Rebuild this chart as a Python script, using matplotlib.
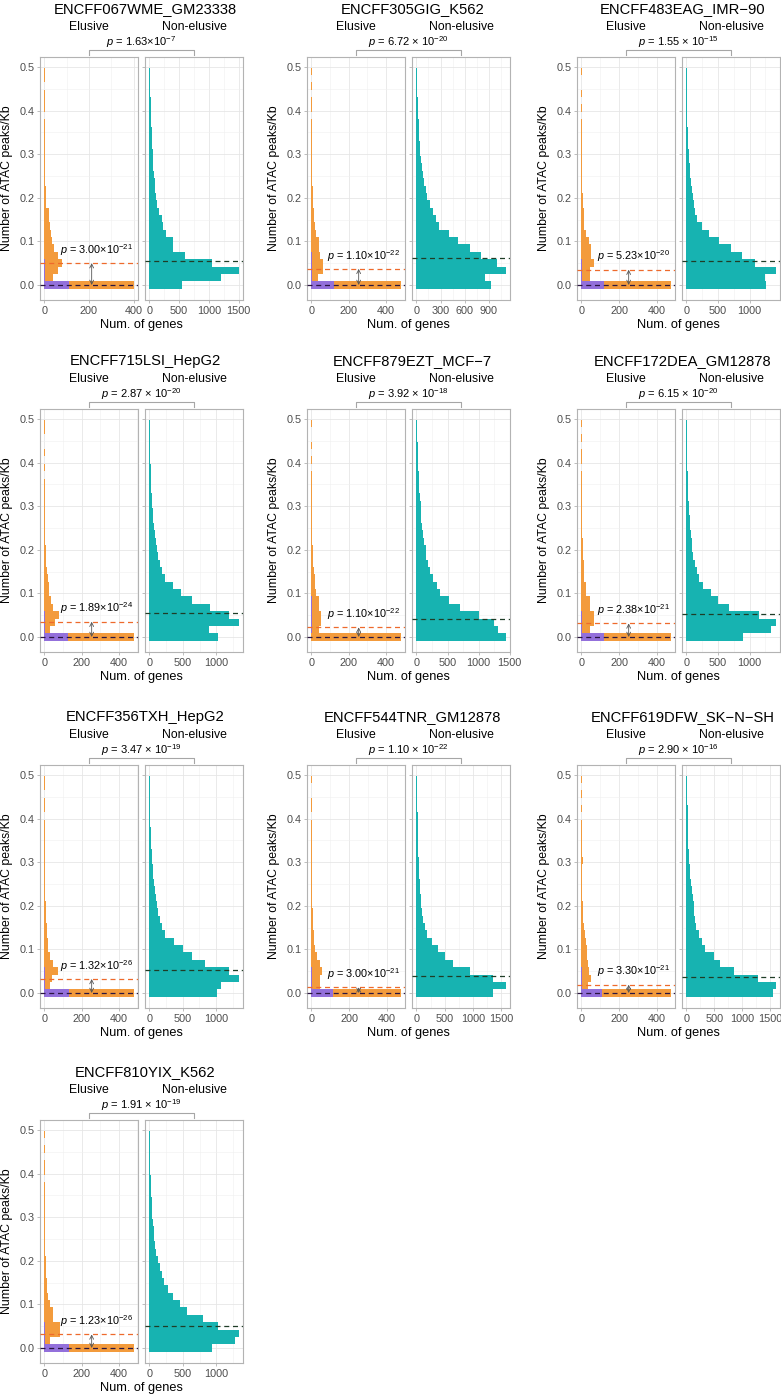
import numpy as np
import matplotlib
matplotlib.use("Agg")
import matplotlib.pyplot as plt
from matplotlib.lines import Line2D
from matplotlib.ticker import MultipleLocator

plt.rcParams["font.family"] = ["Liberation Sans", "DejaVu Sans"]
plt.rcParams["mathtext.fontset"] = "custom"
plt.rcParams["mathtext.rm"] = "Liberation Sans"
plt.rcParams["mathtext.it"] = "Liberation Sans:italic"

# ---- data ----
titles = ["ENCFF067WME_GM23338", "ENCFF305GIG_K562", "ENCFF483EAG_IMR\u221290",
          "ENCFF715LSI_HepG2", "ENCFF879EZT_MCF\u22127", "ENCFF172DEA_GM12878",
          "ENCFF356TXH_HepG2", "ENCFF544TNR_GM12878", "ENCFF619DFW_SK\u2212N\u2212SH",
          "ENCFF810YIX_K562"]

# p-value between elusive / non-elusive (mantissa, exponent, spaced x sign)
p_between = [("1.63", -7, False), ("6.72", -20, True), ("1.55", -15, True),
             ("2.87", -20, True), ("3.92", -18, True), ("6.15", -20, True),
             ("3.47", -19, True), ("1.10", -22, True), ("2.90", -16, True),
             ("1.91", -19, True)]
# p-value inside elusive panel
p_within = [("3.00", -21), ("1.10", -22), ("5.23", -20), ("1.89", -24), ("1.10", -22),
            ("2.38", -21), ("1.32", -26), ("3.00", -21), ("3.30", -21), ("1.23", -26)]

# bin counts, bins of ~0.0169 peaks/Kb starting at 0
elusive_counts = [
    [400, 40, 62, 78, 60, 45, 35, 30, 25, 22, 20, 8, 5, 6, 4, 3, 2, 2, 3, 2, 1, 2, 1, 0, 1, 2, 1, 0, 1, 1],
    [478, 35, 62, 62, 45, 40, 38, 27, 18, 15, 12, 10, 8, 6, 4, 3, 2, 3, 2, 2, 1, 1, 2, 0, 1, 1, 0, 1, 0, 1],
    [472, 47, 47, 68, 51, 50, 39, 25, 16, 16, 12, 9, 7, 5, 4, 3, 3, 2, 2, 1, 1, 1, 1, 0, 1, 0, 1, 0, 0, 1],
    [480, 30, 57, 80, 48, 34, 27, 22, 18, 14, 10, 8, 6, 5, 4, 3, 2, 3, 2, 1, 1, 1, 0, 1, 0, 1, 0, 0, 1, 1],
    [478, 41, 53, 53, 41, 41, 27, 18, 18, 12, 10, 8, 6, 5, 4, 3, 2, 2, 3, 1, 1, 1, 1, 0, 1, 0, 1, 0, 0, 1],
    [472, 44, 65, 65, 44, 44, 26, 26, 16, 16, 16, 9, 9, 6, 5, 4, 3, 2, 3, 2, 1, 2, 1, 0, 1, 1, 0, 1, 0, 1],
    [480, 30, 40, 75, 48, 30, 21, 21, 15, 12, 10, 8, 6, 5, 4, 4, 3, 2, 3, 2, 1, 1, 2, 1, 0, 1, 1, 0, 1, 1],
    [472, 44, 44, 58, 44, 30, 21, 15, 12, 10, 8, 6, 5, 4, 3, 3, 2, 2, 3, 1, 1, 1, 1, 1, 0, 1, 2, 0, 0, 1],
    [472, 36, 48, 40, 36, 32, 28, 22, 18, 14, 10, 8, 6, 5, 4, 3, 3, 2, 6, 3, 2, 1, 1, 1, 0, 1, 0, 1, 0, 1],
    [480, 30, 84, 84, 48, 48, 30, 21, 15, 12, 10, 8, 6, 5, 4, 3, 3, 2, 2, 1, 2, 1, 1, 0, 1, 1, 0, 1, 0, 1],
]
purple_counts = [
    [110, 3, 3, 3],
    [119, 3, 3, 3, 3],
    [118, 3, 3, 3],
    [129, 3, 3, 3],
    [0, 3, 3, 3, 3, 3],
    [118, 3, 3, 3],
    [132, 3, 3, 3],
    [115, 3, 3, 3],
    [110, 3, 3, 3],
    [132, 3, 3, 3],
]
nonelusive_counts = [
    [540, 1200, 1500, 1050, 600, 400, 390, 280, 220, 210, 160, 130, 113, 100, 88, 76, 66, 60, 52, 46, 40, 35, 30, 27, 24, 20, 17, 14, 12, 9],
    [930, 860, 1110, 1000, 810, 670, 520, 410, 280, 240, 200, 170, 137, 115, 100, 85, 70, 58, 45, 40, 34, 30, 26, 22, 18, 15, 12, 10, 8, 6],
    [1266, 1240, 1410, 1090, 880, 710, 520, 350, 240, 170, 135, 118, 106, 90, 75, 62, 50, 40, 33, 27, 22, 18, 15, 12, 10, 8, 6, 5, 4, 3],
    [1020, 890, 1330, 1185, 905, 640, 475, 350, 235, 185, 160, 135, 115, 95, 80, 68, 57, 48, 40, 33, 28, 23, 19, 16, 13, 11, 9, 7, 5, 4],
    [1433, 1315, 1250, 1000, 700, 520, 380, 330, 260, 215, 180, 160, 150, 120, 100, 90, 80, 72, 68, 55, 48, 42, 36, 32, 27, 22, 18, 14, 11, 8],
    [894, 1340, 1410, 1144, 681, 505, 383, 255, 200, 160, 130, 110, 95, 80, 70, 60, 50, 42, 36, 30, 26, 22, 18, 15, 12, 10, 8, 6, 5, 4],
    [1010, 1080, 1340, 1190, 842, 642, 500, 368, 232, 190, 160, 135, 112, 95, 80, 68, 57, 48, 40, 33, 27, 22, 18, 15, 12, 10, 8, 6, 5, 4],
    [1354, 1580, 1354, 945, 652, 506, 389, 284, 184, 143, 120, 97, 85, 75, 66, 58, 51, 45, 38, 34, 30, 27, 24, 22, 20, 17, 15, 13, 11, 9],
    [1560, 1600, 1280, 850, 610, 490, 340, 280, 225, 180, 155, 140, 130, 115, 98, 83, 70, 57, 44, 39, 35, 31, 28, 25, 22, 19, 16, 12, 10, 8],
    [930, 1270, 1330, 1020, 800, 560, 450, 350, 270, 220, 180, 150, 125, 105, 88, 74, 62, 52, 44, 37, 31, 26, 22, 18, 15, 12, 10, 8, 6, 5],
]
median_elusive = [0.050, 0.037, 0.035, 0.035, 0.022, 0.031, 0.032, 0.013, 0.019, 0.031]
median_purple = [0.0] * 10
median_nonelusive = [0.055, 0.062, 0.055, 0.055, 0.042, 0.053, 0.053, 0.039, 0.036, 0.050]
nonelusive_tick_step = [500, 300, 500, 500, 500, 500, 500, 500, 500, 500]
elusive_tick_step = 200

BIN_W = 0.0169
ORANGE = "#F39B3C"
PURPLE = "#9370DB"
TEAL = "#17B3B1"

W, H = 781, 1396
fig = plt.figure(figsize=(W / 100, H / 100), dpi=100)


def fx(x):
    return x / W


def fy(y):
    return 1 - y / H


def add_ax(left, top, w, h):
    return fig.add_axes([fx(left), fy(top + h), w / W, h / H])


def style(ax, step, xmax, show_y):
    ax.set_ylim(-0.0345, 0.523)
    ax.set_xlim(-0.05 * xmax, 1.05 * xmax)
    ax.yaxis.set_major_locator(MultipleLocator(0.1))
    ax.yaxis.set_minor_locator(MultipleLocator(0.05))
    ax.xaxis.set_major_locator(MultipleLocator(step))
    ax.xaxis.set_minor_locator(MultipleLocator(step / 2))
    ax.grid(which="major", color="#E6E6E6", lw=0.6)
    ax.grid(which="minor", color="#F0F0F0", lw=0.4)
    ax.set_axisbelow(True)
    for s in ax.spines.values():
        s.set_color("#B3B3B3")
        s.set_linewidth(0.8)
    ax.tick_params(which="major", length=2.5, width=0.6, color="#B3B3B3",
                   labelsize=7.8, labelcolor="#4D4D4D", pad=1.5)
    ax.tick_params(which="minor", length=0)
    if show_y:
        ax.yaxis.set_major_formatter(lambda v, pos: f"{v:.1f}")
    else:
        ax.tick_params(axis="y", labelleft=False)


def ptext(mant, exp, spaced):
    sep = " \u00d7 " if spaced else "\u00d7"
    return r"$\it{p}$ = " + mant + sep + r"10$^{" + str(exp) + r"}$"


col_el = [40, 307, 577]
col_ne = [145, 412, 682]
row_top = [57, 409, 765, 1120]
AW, AH = 98, 243
centers = np.arange(30) * BIN_W

for i in range(10):
    r, c = divmod(i, 3)
    top = row_top[r]
    el = np.array(elusive_counts[i])
    pu = np.array(purple_counts[i])
    ne = np.array(nonelusive_counts[i])

    ax1 = add_ax(col_el[c], top, AW, AH)
    ax2 = add_ax(col_ne[c], top, AW, AH)

    ax1.barh(centers, el, height=BIN_W, color=ORANGE, lw=0, zorder=2)
    ax1.barh(centers[:len(pu)], pu, height=BIN_W, color=PURPLE, lw=0, zorder=3)
    ax1.axhline(median_elusive[i], color="#EE6A2C", lw=0.9, ls=(0, (4, 3)), zorder=4)
    ax1.axhline(median_purple[i], color="#2A1540", lw=0.9, ls=(0, (4, 3)), zorder=4)
    m1 = el.max()
    ax1.annotate("", xy=(0.53 * m1, median_purple[i]), xytext=(0.53 * m1, median_elusive[i]),
                 arrowprops=dict(arrowstyle="<->", color="#555555", lw=0.6,
                                 shrinkA=0, shrinkB=0, mutation_scale=7), zorder=5)
    ax1.text(0.58 * m1, median_elusive[i] + 0.012, ptext(*p_within[i], False),
             ha="center", va="bottom", fontsize=7.8, zorder=6)
    style(ax1, elusive_tick_step, m1, True)

    ax2.barh(centers, ne, height=BIN_W, color=TEAL, lw=0, zorder=2)
    ax2.axhline(median_nonelusive[i], color="#1F3D27", lw=0.9, ls=(0, (4, 3)), zorder=4)
    style(ax2, nonelusive_tick_step[i], ne.max(), False)

    # annotations in pixel space
    xc1 = col_el[c] + AW / 2
    xc2 = col_ne[c] + AW / 2
    xmid = (col_el[c] + col_ne[c] + AW) / 2
    fig.text(fx(xmid + 4), fy(top - 48), titles[i], ha="center", va="center", fontsize=10.6)
    fig.text(fx(xc1), fy(top - 30), "Elusive", ha="center", va="center", fontsize=8.8)
    fig.text(fx(xc2), fy(top - 30), "Non-elusive", ha="center", va="center", fontsize=8.8)
    fig.text(fx(xmid), fy(top - 15), ptext(*p_between[i]), ha="center", va="center",
             fontsize=8)
    fig.add_artist(Line2D([fx(xc1), fx(xc1), fx(xc2), fx(xc2)],
                          [fy(top - 2), fy(top - 7), fy(top - 7), fy(top - 2)],
                          color="#A6A6A6", lw=0.8))
    fig.text(fx(xmid), fy(top + AH + 25), "Num. of genes", ha="center", va="center",
             fontsize=9.2)
    fig.text(fx(col_el[c] - 33), fy(top + AH / 2), "Number of ATAC peaks/Kb",
             ha="center", va="center", rotation=90, fontsize=8.8)

fig.savefig("out.png", dpi=100)
